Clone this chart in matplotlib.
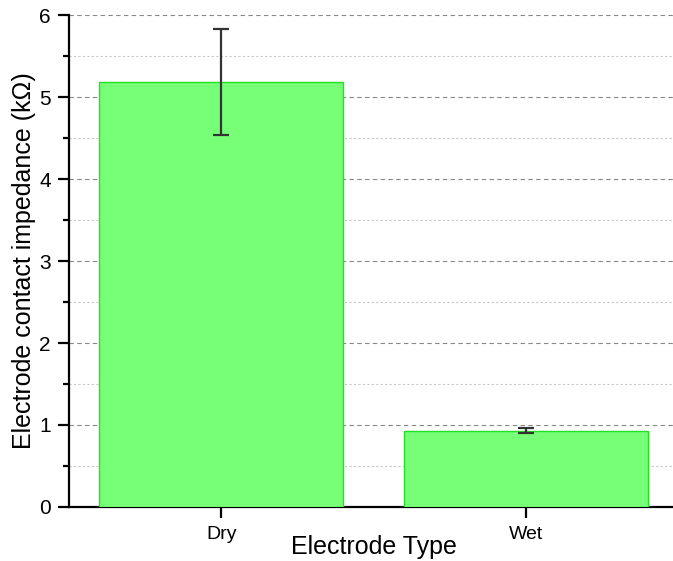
import matplotlib
matplotlib.use("Agg")
import matplotlib.pyplot as plt
from matplotlib.ticker import MultipleLocator

plt.rcParams['font.family'] = ['Liberation Sans', 'DejaVu Sans']

categories = ["Dry", "Wet"]
values = [5.18, 0.93]
errors = [0.645, 0.03]
yticks = [0, 1, 2, 3, 4, 5, 6]

fig = plt.figure(figsize=(6.73, 5.61), dpi=100)
ax = fig.add_axes([69/673, 54/561, 609.5/673, 492/561])

x = list(range(len(categories)))
ax.bar(x, values, width=0.8, color='#77ff77', edgecolor='#22e022', linewidth=1.0, zorder=3)
ax.errorbar(x, values, yerr=errors, fmt='none', ecolor='#333333', elinewidth=1.6,
            capsize=6, capthick=1.6, zorder=4)

ax.set_xlim(-0.5, 1.5)
ax.set_ylim(0, 6)
ax.set_yticks(yticks)
ax.yaxis.set_minor_locator(MultipleLocator(0.5))
ax.set_xticks(x)
ax.set_xticklabels(categories)

ax.grid(axis='y', which='major', color='#888888', linestyle=(0, (4, 3)), linewidth=0.8, zorder=0)
ax.grid(axis='y', which='minor', color='#c8c8c8', linestyle=(0, (2, 2)), linewidth=0.8, zorder=0)
ax.set_axisbelow(True)

for s in ['top', 'right']:
    ax.spines[s].set_visible(False)
for s in ['left', 'bottom']:
    ax.spines[s].set_linewidth(1.6)

ax.tick_params(axis='y', which='major', direction='out', length=8, width=1.6, labelsize=15, pad=5)
ax.tick_params(axis='y', which='minor', direction='out', length=4, width=1.6)
ax.tick_params(axis='x', which='major', direction='out', length=8, width=1.6, labelsize=14, pad=6)

ax.set_ylabel("Electrode contact impedance (k\u03a9)", fontsize=18)
ax.yaxis.set_label_coords(-(69 - 36) / 609.5, 0.5)
ax.set_xlabel("Electrode Type", fontsize=18)
ax.xaxis.set_label_coords((374 - 69) / 609.5, -(535 - 507) / 492)

fig.savefig("out.png", dpi=100)
